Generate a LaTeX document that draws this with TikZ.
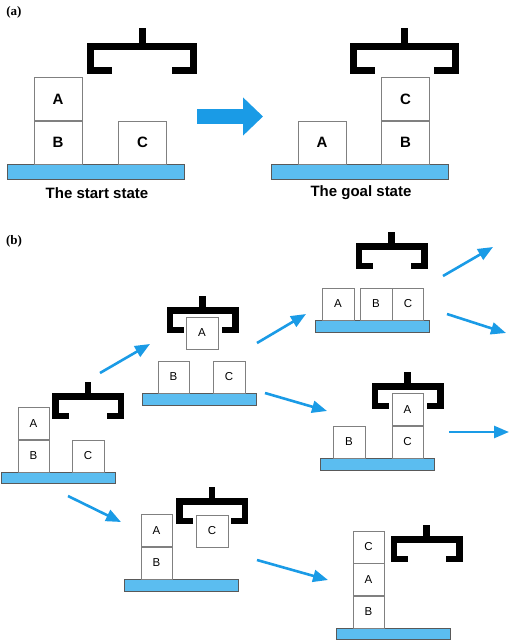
\documentclass[tikz,border=0pt]{standalone}
\usepackage{fontspec}
\setmainfont{Liberation Serif}
\setsansfont{Liberation Sans}
\usepackage{tikz}
\usetikzlibrary{arrows.meta,positioning}
\definecolor{tblblue}{HTML}{5BBDF0}
\definecolor{arrblue}{HTML}{1A9BE6}

\begin{document}
\begin{tikzpicture}[x=1pt,y=-1pt,
  blk/.style={rectangle,draw=black!50,fill=white,inner sep=0pt,
              minimum width=31.5pt,minimum height=32pt,
              font=\sffamily\fontsize{11.5}{12}\selectfont},
  bigblk/.style={blk,minimum width=48pt,minimum height=43pt,
                 font=\sffamily\bfseries\fontsize{15}{16}\selectfont},
  tbl/.style={rectangle,draw=black!65,fill=tblblue,inner sep=0pt,
              minimum width=114pt,minimum height=11.5pt},
  bigtbl/.style={tbl,minimum width=177pt,minimum height=15pt},
  caption/.style={font=\sffamily\bfseries\fontsize{15}{16}\selectfont},
  tag/.style={font=\bfseries\fontsize{13}{14}\selectfont},
  arr/.style={-{Triangle[length=15pt,width=12pt]},arrblue,line width=2.6pt},
  gripper/.pic={
    \draw[line join=miter] (-19,22.75) -- (-32.75,22.75) -- (-32.75,3.25)
      -- (32.75,3.25) -- (32.75,22.75) -- (19,22.75);
    \draw (0,-11) -- (0,3.25);}]
\useasboundingbox (0,0) rectangle (510,640);

% (a) start and goal
\node[tag] (tagA) at (14,12) {(a)};
\node[bigtbl] (st) at (95.5,171.5) {};
\node[bigblk,anchor=south] (stB) at (58,164) {B};
\node[bigblk,above=0pt of stB] (stA) {A};
\node[bigblk,anchor=south] (stC) at (142.5,164) {C};
\pic[line width=7pt,xscale=1.57,yscale=1.27] at (142,42) {gripper};
\node[caption] (stcap) at (97,193) {The start state};

\node[bigtbl] (gl) at (360,171.5) {};
\node[bigblk,anchor=south] (glA) at (322,164) {A};
\node[bigblk,anchor=south] (glB) at (405.5,164) {B};
\node[bigblk,above=0pt of glB] (glC) {C};
\pic[line width=7pt,xscale=1.57,yscale=1.27] at (404.5,42) {gripper};
\node[caption] (glcap) at (361,193) {The goal state};

\coordinate (go-s) at (197,116.5);
\coordinate (go-e) at (263,116.5);
\draw[arrblue,line width=15pt,-{Triangle[length=20pt,width=37pt]}] (go-s) -- (go-e);

% (b) search
\node[tag] (tagB) at (14,241) {(b)};

\node[tbl] (s0t) at (58,477.5) {};
\node[blk,anchor=south] (s0b) at (33.5,472) {B};
\node[blk,above=0pt of s0b] (s0a) {A};
\node[blk,anchor=south] (s0c) at (88,472) {C};
\pic[line width=6.5pt] at (88,393) {gripper};

\node[tbl] (s1t) at (199,399) {};
\node[blk,anchor=south] (s1b) at (173.5,393) {B};
\node[blk,anchor=south] (s1c) at (229,393) {C};
\node[blk] (s1a) at (202,333) {A};
\pic[line width=6.5pt] at (202.5,307) {gripper};

\node[tbl] (s2t) at (372,326) {};
\node[blk,anchor=south] (s2a) at (338,320) {A};
\node[blk,anchor=south] (s2b) at (376,320) {B};
\node[blk,right=0pt of s2b] (s2c) {C};
\pic[line width=6.5pt] at (391.5,243) {gripper};

\node[tbl] (s3t) at (377.5,464) {};
\node[blk,anchor=south] (s3b) at (349,458) {B};
\node[blk,anchor=south] (s3c) at (407.5,458) {C};
\node[blk,above=0pt of s3c] (s3a) {A};
\pic[line width=6.5pt] at (407.5,383) {gripper};

\node[tbl] (s4t) at (181.5,585) {};
\node[blk,anchor=south] (s4b) at (156.5,579) {B};
\node[blk,above=0pt of s4b] (s4a) {A};
\node[blk] (s4c) at (212,531) {C};
\pic[line width=6.5pt] at (212,498) {gripper};

\node[tbl] (s5t) at (393,633.5) {};
\node[blk,anchor=south] (s5b) at (368.5,628) {B};
\node[blk,above=0pt of s5b] (s5a) {A};
\node[blk,above=0pt of s5a] (s5c) {C};
\pic[line width=6.5pt] at (426.5,536) {gripper};

\foreach \n/\sx/\sy/\ex/\ey in {s0s1/100/373/150/344, s0s4/68/496/121/522,
    s1s2/257/343/306/314, s1s3/265/393/327/411, s2up/443/276/493/247,
    s2dn/447/314/506/333, s3rt/449/432/509/432, s4s5/257/560/328/580}{
  \coordinate (\n-s) at (\sx,\sy);
  \coordinate (\n-e) at (\ex,\ey);
  \draw[arr] (\n-s) -- (\n-e);}
\end{tikzpicture}
\end{document}
